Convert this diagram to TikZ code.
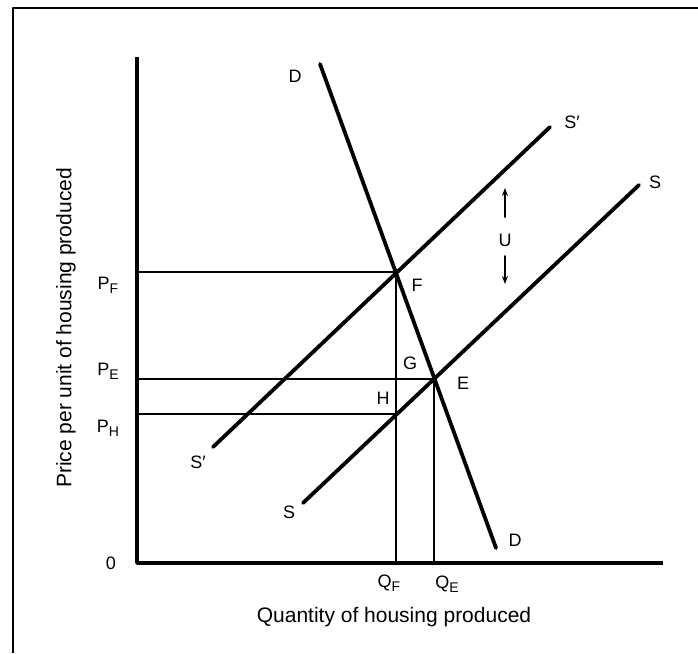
\documentclass[tikz,border=0pt]{standalone}
\usepackage{fontspec}
\setmainfont{Liberation Sans}
\usetikzlibrary{arrows.meta}
\newcommand{\lowsub}[1]{\raisebox{-0.45ex}{\fontsize{14}{14}\selectfont #1}}

\begin{document}
\begin{tikzpicture}[x=1pt,y=-1pt,line cap=round,line join=round,font=\fontsize{18}{20}\selectfont]
    \tikzset{curve/.style={line width=3.8pt},guide/.style={line width=2pt,line cap=butt},lbl/.style={inner sep=0pt},
      title/.style={inner sep=0pt,font=\fontsize{21}{24}\selectfont}}
    \useasboundingbox (0,0) rectangle (698,653);
    % frame
    \draw[line width=1.8pt,line cap=butt] (13,653)--(13,8)--(698,8);
    % axes
    \coordinate (o) at (137,563); \coordinate (ytop) at (137,57); \coordinate (xend) at (663,563);
    \draw[line width=3.8pt,line cap=butt] (ytop)--(o)--(xend);
    \node[lbl] (zero) at (111,563) {0};
    \node[title] (xlab) at (394,617) {Quantity of housing produced};
    \node[title,rotate=90] (ylab) at (66,328) {Price per unit of housing produced};
    % curves
    \coordinate (d1) at (320,64); \coordinate (d2) at (496,548);
    \coordinate (sp1) at (213,447); \coordinate (sp2) at (550,127);
    \coordinate (s1) at (303,503); \coordinate (s2) at (639,185);
    \draw[curve] (d1)--(d2); \draw[curve] (sp1)--(sp2); \draw[curve] (s1)--(s2);
    \node[lbl] (dtop) at (295,76) {D}; \node[lbl] (dbot) at (515,540) {D};
    \node[lbl] (sptop) at (572,122) {S′}; \node[lbl] (spbot) at (198,462) {S′};
    \node[lbl] (stop) at (655,182) {S}; \node[lbl] (sbot) at (289,512) {S};
    % equilibrium points and guides
    \coordinate (F) at (396,272); \coordinate (E) at (434,379); \coordinate (H) at (396,414);
    \foreach \p in {F,E,H}{\draw[guide] (\p) -- (\p -| o);}
    \foreach \p in {F,E}{\draw[guide] (\p) -- (\p |- o);}
    \node[lbl] (pf) at (108,285) {P\lowsub{F}};
    \node[lbl] (pe) at (108,371) {P\lowsub{E}};
    \node[lbl] (ph) at (108,428) {P\lowsub{H}};
    \node[lbl] (qf) at (389,583) {Q\lowsub{F}};
    \node[lbl] (qe) at (447,584) {Q\lowsub{E}};
    \node[lbl] (fl) at (417,285) {F}; \node[lbl] (gl) at (410,363) {G};
    \node[lbl] (el) at (463,383) {E}; \node[lbl] (hl) at (383,398) {H};
    % shift U
    \node[lbl] (u) at (505,240) {U};
    \coordinate (ua) at (505,217); \coordinate (ub) at (505,188);
    \coordinate (uc) at (505,256); \coordinate (ud) at (505,284);
    \draw[line width=2pt,-{Stealth[length=8pt,width=6pt]}] (ua) -- (ub);
    \draw[line width=2pt,-{Stealth[length=8pt,width=6pt]}] (uc) -- (ud);
  \end{tikzpicture}
\end{document}
